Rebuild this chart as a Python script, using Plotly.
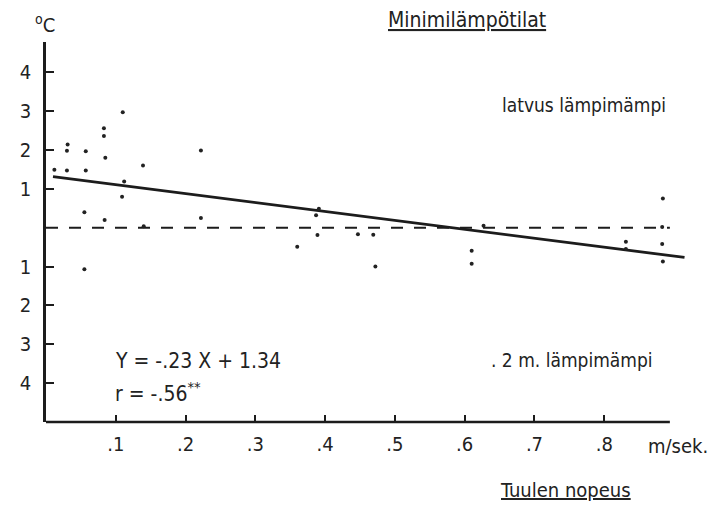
import plotly.graph_objects as go

# Wind speed (m/s) and temperature difference crown - 2 m (degC)
wind_speed = [0.012, 0.030, 0.030, 0.031, 0.057, 0.057, 0.055, 0.055,
              0.083, 0.083, 0.085, 0.084, 0.110, 0.112, 0.109, 0.139,
              0.140, 0.222, 0.222, 0.360, 0.391, 0.387, 0.389, 0.447,
              0.469, 0.472, 0.627, 0.610, 0.610, 0.831, 0.831, 0.884,
              0.883, 0.883, 0.884]
temp_diff = [1.49, 1.47, 1.98, 2.14, 1.97, 1.47, 0.40, -1.07,
             2.56, 2.36, 1.80, 0.20, 2.97, 1.19, 0.80, 1.60,
             0.04, 1.99, 0.25, -0.49, 0.49, 0.32, -0.19, -0.17,
             -0.18, -1.00, 0.05, -0.59, -0.93, -0.36, -0.55, 0.75,
             0.02, -0.42, -0.87]

# Regression Y = -.23 X + 1.34, with X in tenths of m/s
reg_slope = -0.23
reg_intercept = 1.34
reg_x_span = [0.010, 0.915]

x_ticks = [0.1, 0.2, 0.3, 0.4, 0.5, 0.6, 0.7, 0.8]
x_tick_text = [".1", ".2", ".3", ".4", ".5", ".6", ".7", ".8"]
y_ticks = [-4, -3, -2, -1, 1, 2, 3, 4]
y_tick_text = ["4", "3", "2", "1", "1", "2", "3", "4"]

x_axis_end = 0.894
x_range = [0.0, 0.92]
y_range = [-5.0, 4.78]

FONT = "DejaVu Sans Condensed, Liberation Sans Narrow, DejaVu Sans Mono"
INK = "#222222"
LINE = "#1c1c1c"

fig = go.Figure()

# zero reference line
fig.add_trace(go.Scatter(
    x=[0.0, x_axis_end], y=[0, 0], mode="lines",
    line=dict(color=LINE, width=2.2, dash="12px,11px"),
    hoverinfo="skip"))

# regression line
reg_y = [reg_intercept + reg_slope * (x * 10) for x in reg_x_span]
fig.add_trace(go.Scatter(
    x=reg_x_span, y=reg_y, mode="lines",
    line=dict(color=LINE, width=2.8),
    hoverinfo="skip"))

# observations
fig.add_trace(go.Scatter(
    x=wind_speed, y=temp_diff, mode="markers",
    marker=dict(color=INK, size=4, line=dict(width=0))))

# bottom axis line, ending past the last tick
fig.add_shape(type="line", xref="x", yref="paper",
              x0=0, x1=x_axis_end, y0=0, y1=0,
              line=dict(color=LINE, width=2.5))

fig.update_xaxes(
    range=x_range, showline=False, showgrid=False, zeroline=False,
    tickmode="array", tickvals=x_ticks, ticktext=x_tick_text,
    ticks="inside", ticklen=7, tickwidth=2, tickcolor=LINE,
    ticklabelstandoff=8,
    tickfont=dict(family=FONT, size=20, color=INK))
fig.update_yaxes(
    range=y_range, showline=True, linecolor=LINE, linewidth=2.5,
    showgrid=False, zeroline=False,
    tickmode="array", tickvals=y_ticks, ticktext=y_tick_text,
    ticks="inside", ticklen=8, tickwidth=2, tickcolor=LINE,
    ticklabelstandoff=8,
    tickfont=dict(family=FONT, size=20, color=INK))


def label(text, px, py, size=20, anchor="left", under=False):
    # position given in page pixels, converted to paper coordinates
    fnt = dict(family=FONT, size=size, color=INK)
    if under:
        fnt["lineposition"] = "under"
    fig.add_annotation(
        text=text, xref="paper", yref="paper",
        x=(px - 46) / 642, y=(422 - py) / 380,
        xanchor=anchor, yanchor="middle", showarrow=False, font=fnt)


label("<sup>o</sup>C", 57, 24, anchor="right")
label("Minimilämpötilat", 386, 20, size=21, under=True)
label("latvus lämpimämpi", 500, 105, size=19)
label(". 2 m. lämpimämpi", 489, 360, size=19)
label("Y = -.23 X + 1.34", 113, 361, size=21)
label("r = -.56<sup>**</sup>", 113, 392, size=21)
label("m/sek.", 646, 446)
label("Tuulen nopeus", 498, 490, under=True)

fig.update_layout(
    width=713, height=506,
    margin=dict(l=46, r=25, t=42, b=84, pad=0),
    paper_bgcolor="white", plot_bgcolor="white",
    showlegend=False,
    font=dict(family=FONT, size=20, color=INK))

fig.write_html("out.html")
